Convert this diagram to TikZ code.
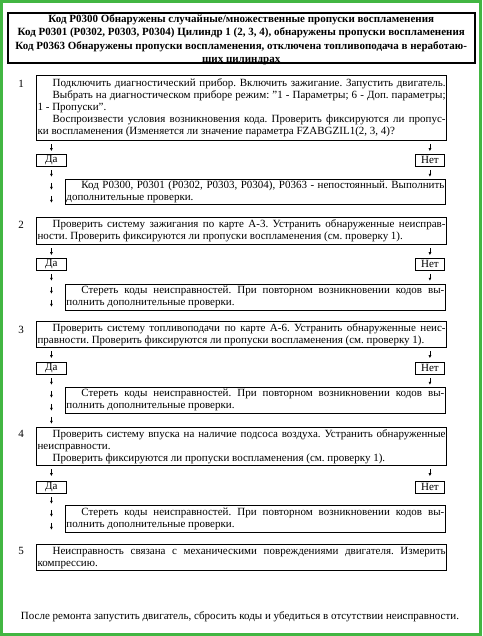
\documentclass[tikz,border=0pt]{standalone}
\usepackage{fontspec}
\setmainfont{Liberation Serif}
\usetikzlibrary{arrows.meta,positioning,decorations.markings}
\tikzset{every picture/.style={/utils/exec={\fontsize{11}{12}\selectfont\frenchspacing}}}
\definecolor{framegreen}{RGB}{66,182,66}
\newcommand{\ind}{\hspace*{15pt}}

\begin{document}
\begin{tikzpicture}[x=1pt,y=-1pt]
  \tikzstyle{titlebox} = [draw, line width=1.5pt, minimum width=467pt, minimum height=50pt, anchor=north west, inner sep=0pt]
  \tikzstyle{titletext} = [align=center, font=\bfseries\fontsize{11}{13.3}\selectfont, inner sep=0pt]
  \tikzstyle{stepbox} = [draw, line width=1.2pt, anchor=north west, text width=408pt, inner xsep=1pt, inner ysep=0pt, align=justify]
  \tikzstyle{resbox} = [draw, line width=0.8pt, anchor=north west, text width=378pt, inner xsep=1pt, inner ysep=0pt, align=justify]
  \tikzstyle{yn} = [draw, line width=0.8pt, minimum width=30pt, minimum height=12pt, inner sep=0pt, anchor=north west]
  \tikzstyle{num} = [inner sep=0pt]
  % short down arrows every 13pt along an invisible path
  \tikzstyle{arrowchain} = [decorate, decoration={markings,
      mark=between positions 10pt and -2pt step 13pt with {\draw[-{Latex[length=3pt,width=3pt]}, line width=0.8pt] (-7pt,0) -- (0,0);}}]

  \useasboundingbox (0,0) rectangle (482,636);
  \draw[framegreen, line width=3pt] (1.5,1.5) rectangle (480.5,634.5);

  \node[titlebox] (title) at (7,12.5) {};
  \node[titletext] (titletxt) at ([yshift=-1.5pt]title.center) {Код P0300 Обнаружены случайные/множественные пропуски воспламенения\\
    Код P0301 (P0302, P0303, P0304) Цилиндр 1 (2, 3, 4), обнаружены пропуски воспламенения\\
    Код P0363 Обнаружены пропуски воспламенения, отключена топливоподача в неработаю-\\
    ших цилиндрах};

  % step 1
  \node[num] (n1) at (21,84) {1};
  \node[stepbox, minimum height=65pt] (step1) at (36,75) {\ind Подключить диагностический прибор. Включить зажигание. Запустить двигатель.\linebreak
    \ind Выбрать на диагностическом приборе режим: "1 - Параметры; 6 - Доп. параметры;\linebreak
    1 - Пропуски".\\
    \ind Воспроизвести условия возникновения кода. Проверить фиксируются ли пропус-\linebreak
    ки воспламенения (Изменяется ли значение параметра FZABGZIL1(2, 3, 4)?};
  \node[yn] (da1) at (36,154) {Да};
  \node[yn, minimum width=29pt] (net1) at (415,154) {Нет};
  \node[resbox, minimum height=25pt] (res1) at (65,179) {\ind Код P0300, P0301 (P0302, P0303, P0304), P0363 - непостоянный. Выполнить\linebreak
    дополнительные проверки.};

  % step 2
  \node[num] (n2) at (21,225) {2};
  \node[stepbox, minimum height=27pt] (step2) at (36,217) {\ind Проверить систему зажигания по карте А-3. Устранить обнаруженные неисправ-\linebreak
    ности. Проверить фиксируются ли пропуски воспламенения (см. проверку 1).};
  \node[yn] (da2) at (36,258) {Да};
  \node[yn, minimum width=29pt] (net2) at (415,258) {Нет};
  \node[resbox, minimum height=26pt] (res2) at (65,284) {\ind Стереть коды неисправностей. При повторном возникновении кодов вы-\linebreak
    полнить дополнительные проверки.};

  % step 3
  \node[num] (n3) at (21,330) {3};
  \node[stepbox, minimum height=26pt] (step3) at (36,321) {\ind Проверить систему топливоподачи по карте А-6. Устранить обнаруженные неис-\linebreak
    правности. Проверить фиксируются ли пропуски воспламенения (см. проверку 1).};
  \node[yn] (da3) at (36,362) {Да};
  \node[yn, minimum width=29pt] (net3) at (415,362) {Нет};
  \node[resbox, minimum height=26pt] (res3) at (65,387) {\ind Стереть коды неисправностей. При повторном возникновении кодов вы-\linebreak
    полнить дополнительные проверки.};

  % step 4
  \node[num] (n4) at (21,434) {4};
  \node[stepbox, minimum height=38pt] (step4) at (36,427) {\ind Проверить систему впуска на наличие подсоса воздуха. Устранить обнаруженные\linebreak
    неисправности.\\
    \ind Проверить фиксируются ли пропуски воспламенения (см. проверку 1).};
  \node[yn] (da4) at (36,481) {Да};
  \node[yn, minimum width=29pt] (net4) at (415,481) {Нет};
  \node[resbox, minimum height=27pt] (res4) at (65,505) {\ind Стереть коды неисправностей. При повторном возникновении кодов вы-\linebreak
    полнить дополнительные проверки.};

  % step 5
  \node[num] (n5) at (21,551) {5};
  \node[stepbox, minimum height=26pt] (step5) at (36,544) {\ind Неисправность связана с механическими повреждениями двигателя. Измерить\linebreak
    компрессию.};

  \node (footer) at (240,617) {После ремонта запустить двигатель, сбросить коды и убедиться в отсутствии неисправности.};

  % arrows: step -> Да / Нет, Нет -> result, Да -> next step
  \foreach \i/\j in {1/2,2/3,3/4,4/5} {
    \path[arrowchain] (step\i.south -| da\i) -- (da\i.north);
    \path[arrowchain] (step\i.south -| net\i) -- (net\i.north);
    \path[arrowchain] (net\i.south) -- (net\i.south |- res\i.north);
    \path[arrowchain] (da\i.south) -- (da\i.south |- step\j.north);
  }
\end{tikzpicture}
\end{document}
